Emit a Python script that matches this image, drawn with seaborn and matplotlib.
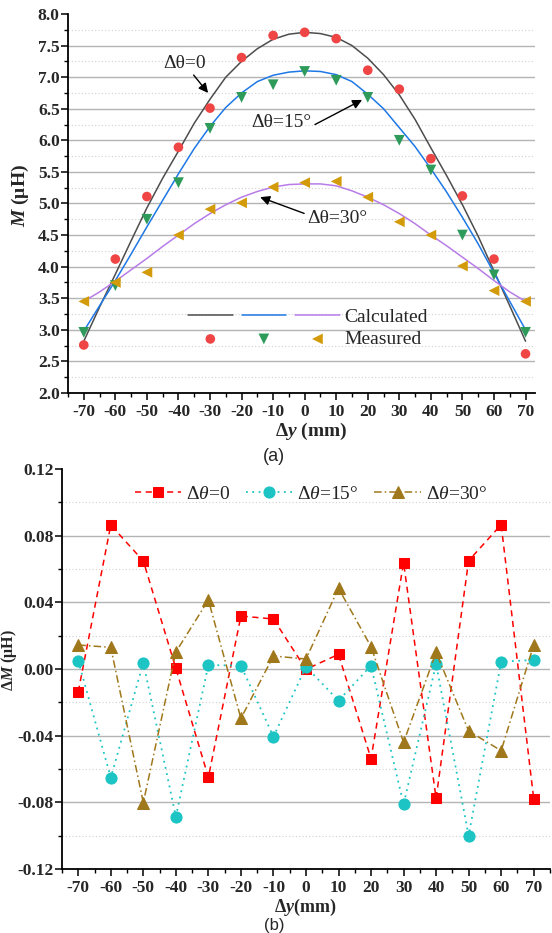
import matplotlib
matplotlib.use('Agg')
from matplotlib import pyplot as plt
from matplotlib.legend_handler import HandlerTuple
from matplotlib.ticker import MultipleLocator
import seaborn as sns

# (a) mutual inductance M (uH) vs lateral offset dy (mm) -------------------------
dy = [-70, -60, -50, -40, -30, -20, -10, 0, 10, 20, 30, 40, 50, 60, 70]
m_meas_0 = [2.76, 4.12, 5.11, 5.89, 6.51, 7.31, 7.66, 7.71, 7.61, 7.11, 6.81, 5.71, 5.12, 4.12, 2.62]
m_meas_15 = [2.96, 3.70, 4.75, 5.33, 6.19, 6.68, 6.88, 7.09, 6.95, 6.68, 6.00, 5.53, 4.50, 3.87, 2.96]
m_meas_30 = [3.45, 3.75, 3.91, 4.50, 4.91, 5.01, 5.26, 5.33, 5.35, 5.10, 4.71, 4.50, 4.01, 3.62, 3.45]

dy_calc = [-70, -65, -60, -55, -50, -45, -40, -35, -30, -25, -20, -15, -10, -5, 0,
           5, 10, 15, 20, 25, 30, 35, 40, 45, 50, 55, 60, 65, 70]
m_calc_0 = [2.82, 3.36, 3.88, 4.41, 4.93, 5.40, 5.83, 6.27, 6.65, 7.00, 7.25, 7.45, 7.60, 7.68, 7.71,
            7.69, 7.63, 7.50, 7.30, 7.04, 6.72, 6.33, 5.88, 5.44, 4.98, 4.48, 3.93, 3.38, 2.82]
m_calc_15 = [2.98, 3.38, 3.78, 4.20, 4.63, 5.05, 5.47, 5.87, 6.22, 6.52, 6.75, 6.93, 7.03, 7.08, 7.10,
             7.09, 7.04, 6.93, 6.73, 6.50, 6.20, 5.90, 5.55, 5.18, 4.78, 4.36, 3.90, 3.45, 3.00]
m_calc_30 = [3.45, 3.60, 3.77, 3.95, 4.13, 4.32, 4.50, 4.68, 4.84, 4.98, 5.10, 5.19, 5.26, 5.30, 5.31,
             5.31, 5.28, 5.20, 5.10, 4.98, 4.84, 4.68, 4.50, 4.33, 4.15, 3.97, 3.78, 3.60, 3.45]

# (b) error dM (uH) ------------------------------------------------------------
err_0 = [-0.0136, 0.0864, 0.0648, 0.0004, -0.065, 0.0318, 0.030, -0.0002, 0.0088, -0.0538,
         0.0638, -0.0776, 0.065, 0.0866, -0.0778]
err_15 = [0.005, -0.0652, 0.0038, -0.0886, 0.0024, 0.002, -0.0406, 0.0014, -0.019, 0.002,
          -0.0812, 0.003, -0.100, 0.0044, 0.0054]
err_30 = [0.0144, 0.013, -0.0802, 0.0102, 0.0414, -0.0296, 0.0078, 0.006, 0.0484, 0.0134,
          -0.044, 0.010, -0.0372, -0.049, 0.0144]

ytick_a = [2.0, 2.5, 3.0, 3.5, 4.0, 4.5, 5.0, 5.5, 6.0, 6.5, 7.0, 7.5, 8.0]
ytick_b = [-0.12, -0.08, -0.04, 0.0, 0.04, 0.08, 0.12]

sns.set_style('ticks')
plt.rcParams['font.family'] = ['Liberation Serif', 'DejaVu Serif']
plt.rcParams['mathtext.fontset'] = 'custom'
plt.rcParams['mathtext.rm'] = 'Liberation Serif'
plt.rcParams['mathtext.it'] = 'Liberation Serif:italic'
plt.rcParams['mathtext.bf'] = 'Liberation Serif:bold'
plt.rcParams['mathtext.bfit'] = 'Liberation Serif:italic:bold'
plt.rcParams['mathtext.fallback'] = 'stix'
plt.rcParams['axes.unicode_minus'] = False


def style_axes(ax, yticks, fmt):
    ax.set_xticks(dy)
    ax.set_xticklabels([str(v) for v in dy])
    ax.set_yticks(yticks)
    ax.set_yticklabels([fmt % v for v in yticks])
    ax.xaxis.set_minor_locator(MultipleLocator(5))
    ax.yaxis.set_minor_locator(MultipleLocator((yticks[1] - yticks[0]) / 2))
    ax.grid(axis='y', which='major', color='#b4b4b4', lw=1.0)
    ax.grid(axis='y', which='minor', color='#cfcfcf', lw=0.8, ls=(0, (1, 2)))
    ax.grid(axis='x', which='both', visible=False)
    ax.yaxis.get_major_ticks()[-1].gridline.set_visible(False)
    ax.set_axisbelow(True)
    for s in ['top', 'right']:
        ax.spines[s].set_visible(False)
    for s in ['left', 'bottom']:
        ax.spines[s].set_color('black')
        ax.spines[s].set_linewidth(1.3)
    ax.tick_params(which='major', direction='out', length=5, width=1.1, color='black', labelsize=12.5)
    ax.tick_params(which='minor', direction='out', length=3, width=1.0, color='black')
    plt.setp(ax.get_xticklabels() + ax.get_yticklabels(), fontweight='bold')


fig = plt.figure(figsize=(5.52, 9.33), dpi=100)
ax1 = fig.add_axes([0.1232, 0.5788, 0.846, 0.4062])
ax2 = fig.add_axes([0.1123, 0.0686, 0.884, 0.4287])

# ---- panel (a) ----
calc_cols = ['#4d4d4d', '#1e78e6', '#b87ce8']
meas_cols = ['#f04545', '#2e9b5b', '#d39b0a']
for vals, c in zip([m_calc_0, m_calc_15, m_calc_30], calc_cols):
    sns.lineplot(x=dy_calc, y=vals, ax=ax1, color=c, lw=1.1, errorbar=None, zorder=3)
for vals, c, mk, s in zip([m_meas_0, m_meas_15, m_meas_30], meas_cols, ['o', 'v', '<'], [48, 60, 60]):
    sns.scatterplot(x=dy, y=vals, ax=ax1, color=c, marker=mk, s=s, edgecolor='none', zorder=4)

ax1.set_xlim(-75, 73)
ax1.set_ylim(2.0, 8.0)
style_axes(ax1, ytick_a, '%.1f')
ax1.tick_params(axis='y', pad=1)
ax1.tick_params(axis='x', pad=3)

ax1.legend([tuple(ax1.lines[:3]), tuple(ax1.collections[-3:])], ['Calculated', 'Measured'],
           handler_map={tuple: HandlerTuple(ndivide=None, pad=0.46)},
           loc='center left', bbox_to_anchor=(0.257, 0.1715), frameon=False, fontsize=14,
           handlelength=7.8, handletextpad=0.25, labelspacing=0.25, borderpad=0,
           borderaxespad=0, scatterpoints=1)

arrow = dict(arrowstyle='-|>', color='black', lw=1.0, mutation_scale=14, shrinkA=0, shrinkB=0)
ax1.annotate('Δθ=0', xy=(-30.6, 6.75), xytext=(-38.2, 7.22), ha='center', va='center',
             fontsize=14, arrowprops=arrow)
ax1.annotate('Δθ=15°', xy=(18.2, 6.64), xytext=(-7.3, 6.29), ha='center', va='center',
             fontsize=14, arrowprops=dict(arrow, relpos=(1.0, 0.25)))
ax1.annotate('Δθ=30°', xy=(-14.1, 5.10), xytext=(10.4, 4.77), ha='center', va='center',
             fontsize=14, arrowprops=dict(arrow, relpos=(0.0, 0.7)))

ax1.set_xlabel(r'Δ$\mathbfit{y}$ (mm)', fontsize=14, fontweight='bold')
ax1.xaxis.set_label_coords(0.52, -0.074)
ax1.set_ylabel(r'$\mathbfit{M}$ (μH)', fontsize=14, fontweight='bold')
ax1.yaxis.set_label_coords(-0.079, 0.52)

# ---- panel (b) ----
sns.lineplot(x=dy, y=err_0, ax=ax2, color='#ff0000', linestyle=(0, (4, 3)), lw=1.1, marker='s',
             markersize=7, markeredgecolor='#ff0000', errorbar=None, label=r'Δ$\theta$=0', zorder=4)
sns.lineplot(x=dy, y=err_15, ax=ax2, color='#1cc4c4', linestyle=(0, (1, 2.5)), lw=1.3, marker='o',
             markersize=8, markeredgecolor='#1cc4c4', errorbar=None, label=r'Δ$\theta$=15°', zorder=4)
sns.lineplot(x=dy, y=err_30, ax=ax2, color='#a0781c', linestyle=(0, (5, 2, 1, 2)), lw=1.1, marker='^',
             markersize=9, markeredgecolor='#a0781c', errorbar=None, label=r'Δ$\theta$=30°', zorder=4)

ax2.set_xlim(-75, 75)
ax2.set_ylim(-0.12, 0.12)
style_axes(ax2, ytick_b, '%.2f')
ax2.tick_params(axis='y', pad=1)
ax2.tick_params(axis='x', pad=3)

ax2.legend(loc='center', bbox_to_anchor=(0.51, 0.9375), ncol=3, frameon=False, fontsize=14,
           handlelength=2.4, handletextpad=0.25, columnspacing=0.8, numpoints=1, borderpad=0)

ax2.set_xlabel(r'Δ$\mathbfit{y}$(mm)', fontsize=13, fontweight='bold')
ax2.xaxis.set_label_coords(0.498, -0.07)
ax2.set_ylabel(r'Δ$\mathbfit{M}$ (μH)', fontsize=11.5, fontweight='bold')
ax2.yaxis.set_label_coords(-0.088, 0.5225)

fig.text(0.496, 0.5102, '(a)', ha='center', va='center', family='Liberation Sans', fontsize=13)
fig.text(0.496, 0.0085, '(b)', ha='center', va='center', family='Liberation Sans', fontsize=12)

fig.savefig('out.png', dpi=100)
